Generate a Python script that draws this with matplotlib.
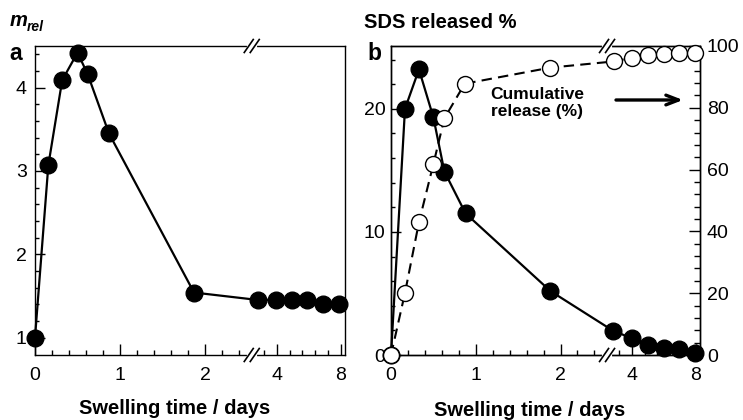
import numpy as np
import matplotlib
matplotlib.use('Agg')
import matplotlib.pyplot as plt
from matplotlib.ticker import NullFormatter

plt.rcParams['font.family'] = ['Liberation Sans', 'DejaVu Sans']

# panel a: relative mass vs swelling time (days)
days_a = [0, 0.157, 0.32, 0.5, 0.62, 0.87, 1.87, 2.85, 3.94, 4.94, 5.92, 6.92, 7.92]
m_rel = [1.0, 3.07, 4.09, 4.42, 4.16, 3.45, 1.54, 1.45, 1.45, 1.45, 1.45, 1.40, 1.40]

# panel b: SDS released per interval (left) and cumulative release (right)
days_b = [0, 0.165, 0.33, 0.5, 0.63, 0.88, 1.88, 2.8, 3.98, 4.98, 5.98, 6.96, 7.98]
sds_released = [0, 20.0, 23.2, 19.3, 14.9, 11.5, 5.2, 1.98, 1.36, 0.82, 0.54, 0.46, 0.19]
days_cum = [0, 0.165, 0.33, 0.5, 0.63, 0.87, 1.88, 2.85, 3.98, 4.98, 5.98, 6.96, 7.98]
cumulative = [0, 20.1, 43.0, 61.8, 76.6, 87.8, 93.0, 95.0, 96.2, 97.1, 97.5, 97.8, 97.8]

x_major = [0, 1, 2, 4, 8]
x_minor = [0.2, 0.4, 0.6, 0.8, 1.2, 1.4, 1.6, 1.8, 2.2, 2.4, 3.2, 4.8, 5.6, 6.4, 7.2]

# broken time axis: 0-2.55 d linear, then compressed 4-8 d part
D_KNOTS = [-10, 2.55, 2.7, 30]
U_KNOTS = [-10, 2.55, 2.843 + (2.7 - 4) * 0.188, 2.843 + (30 - 4) * 0.188]
BREAK_FRAC = 2.55 / 3.647

TICK_FS = 14


def fwd(d):
    return np.interp(d, D_KNOTS, U_KNOTS)


def inv(u):
    return np.interp(u, U_KNOTS, D_KNOTS)


W, H = 743, 420


def px(x, y):
    return x / W, 1 - y / H


def setup_x(ax):
    ax.set_xscale('function', functions=(fwd, inv))
    ax.set_xlim(0, 8.27)
    ax.set_xticks(x_major, labels=[str(v) for v in x_major])
    ax.set_xticks(x_minor, minor=True)
    ax.xaxis.set_minor_formatter(NullFormatter())
    ax.tick_params(axis='x', which='major', direction='in', length=8, width=1,
                   pad=9, labelsize=TICK_FS, top=False)
    ax.tick_params(axis='x', which='minor', direction='in', length=3.5, width=1, top=False)


def break_marks(ax, wpx=310, hpx=309):
    dx = 4.5 / wpx
    dy = 6.5 / hpx
    off = 3.0 / wpx
    for yb in (0, 1):
        ax.plot([BREAK_FRAC - off, BREAK_FRAC + off], [yb, yb], color='white', lw=3,
                transform=ax.transAxes, clip_on=False, zorder=10)
        for s in (-off, off):
            ax.plot([BREAK_FRAC + s - dx, BREAK_FRAC + s + dx], [yb - dy, yb + dy],
                    color='black', lw=1.2, transform=ax.transAxes, clip_on=False, zorder=11)


fig = plt.figure(figsize=(7.43, 4.2), dpi=100)
ax_a = fig.add_axes([35 / W, 65 / H, 310 / W, 309 / H])
ax_b = fig.add_axes([391 / W, 65 / H, 309 / W, 309 / H])

# panel a
ax_a.plot(days_a, m_rel, '-o', color='black', lw=1.6, ms=12, mfc='black', mec='black',
          clip_on=False, zorder=5)
setup_x(ax_a)
ax_a.set_ylim(0.79, 4.5)
ax_a.set_yticks([1, 2, 3, 4])
ax_a.set_yticks(np.arange(1.2, 4.5, 0.2), minor=True)
ax_a.tick_params(axis='y', which='major', direction='in', length=7, width=1,
                 pad=6, labelsize=TICK_FS, right=False)
ax_a.tick_params(axis='y', which='minor', direction='in', length=3, width=1, right=False)
break_marks(ax_a)

# panel b
ax_b.plot(days_b, sds_released, '-o', color='black', lw=1.6, ms=12, mfc='black',
          mec='black', clip_on=False, zorder=5)
setup_x(ax_b)
ax_b.set_ylim(0, 25.1)
ax_b.set_yticks([0, 10, 20])
ax_b.set_yticks([2, 4, 6, 8, 12, 14, 16, 18, 22, 24], minor=True)
ax_b.tick_params(axis='y', which='major', direction='in', length=7, width=1,
                 pad=4, labelsize=TICK_FS, right=False)
ax_b.tick_params(axis='y', which='minor', direction='in', length=3, width=1, right=False)

ax_b2 = ax_b.twinx()
ax_b2.plot(days_cum, cumulative, '--o', color='black', lw=1.5, dashes=(5, 3), ms=11.5,
           mfc='white', mec='black', mew=1.0, clip_on=False, zorder=5)
ax_b2.set_ylim(0, 100)
ax_b2.set_yticks([0, 20, 40, 60, 80, 100])
ax_b2.set_yticks([v for v in range(4, 100, 4) if v % 20], minor=True)
ax_b2.tick_params(axis='y', which='major', direction='in', length=8, width=1,
                  pad=5, labelsize=TICK_FS)
ax_b2.tick_params(axis='y', which='minor', direction='in', length=4, width=1)
break_marks(ax_b2, wpx=309)

for ax in (ax_a, ax_b, ax_b2):
    for sp in ax.spines.values():
        sp.set_linewidth(1.0)

# texts
fig.text(*px(10, 21), 'm', fontsize=14.5, fontweight='bold', fontstyle='italic',
         ha='left', va='center')
fig.text(*px(27, 27), 'rel', fontsize=10, fontweight='bold', fontstyle='italic',
         ha='left', va='center')
fig.text(*px(9, 53), 'a', fontsize=16.5, fontweight='bold', ha='left', va='center')
fig.text(*px(367, 53), 'b', fontsize=16.5, fontweight='bold', ha='left', va='center')
fig.text(*px(364, 22), 'SDS released %', fontsize=14.5, fontweight='bold',
         ha='left', va='center')
fig.text(*px(175, 408), 'Swelling time / days', fontsize=14.5, fontweight='bold',
         ha='center', va='center')
fig.text(*px(530, 410), 'Swelling time / days', fontsize=14.5, fontweight='bold',
         ha='center', va='center')
fig.text(*px(537, 103), 'Cumulative\nrelease (%)', fontsize=12.5, fontweight='bold',
         ha='center', va='center', linespacing=1.15)
ax_b2.annotate('', xy=px(683, 100), xycoords='figure fraction',
               xytext=px(616, 100), textcoords='figure fraction',
               arrowprops=dict(arrowstyle='->,head_length=0.9,head_width=0.35', lw=2.4,
                               color='black', shrinkA=0, shrinkB=0))

fig.savefig('out.png', dpi=100)
